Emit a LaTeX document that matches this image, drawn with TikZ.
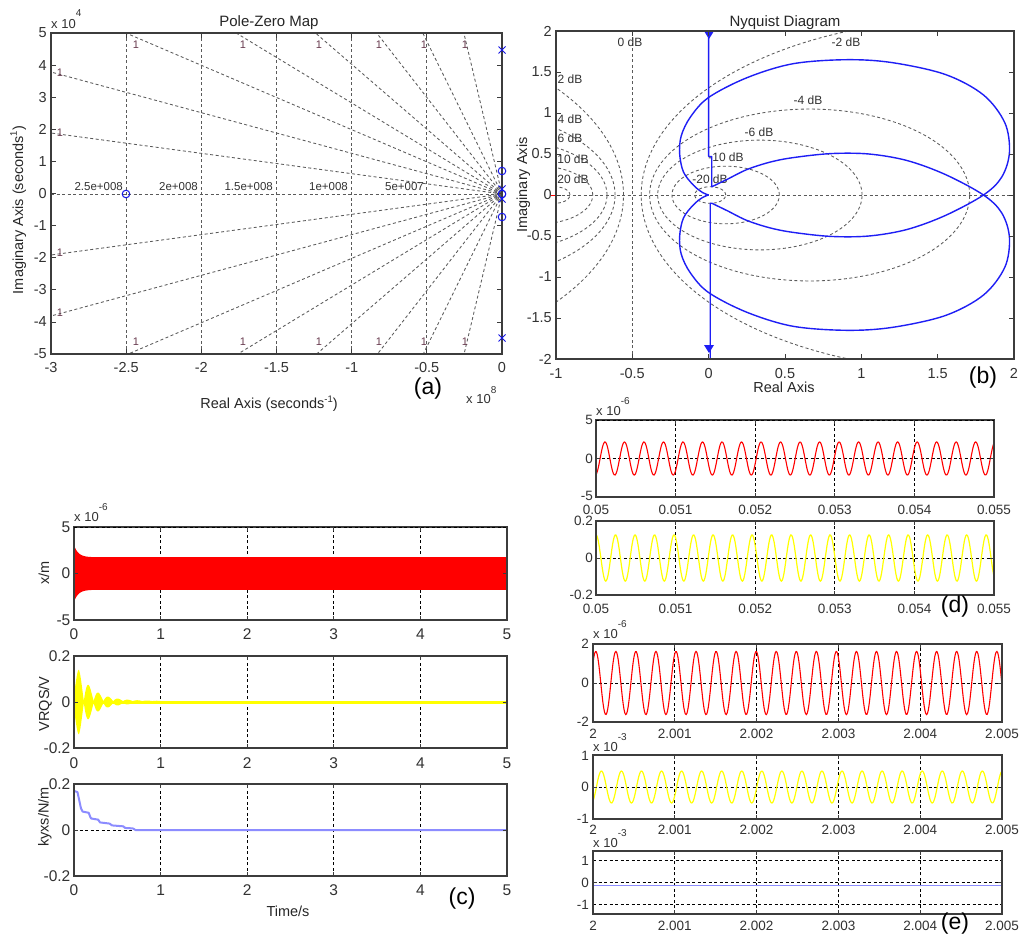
\documentclass[tikz,border=0pt]{standalone}
\usepackage{fontspec}
\setmainfont{Liberation Sans}
\definecolor{tg}{RGB}{50,50,50}
\definecolor{axc}{RGB}{60,60,60}
\definecolor{gridc}{RGB}{90,90,90}
\definecolor{onecol}{RGB}{105,60,80}
\definecolor{nblue}{RGB}{30,30,245}
\definecolor{mblue}{RGB}{20,20,230}
\definecolor{lblue}{RGB}{140,140,255}
\definecolor{ylw}{RGB}{255,255,0}
\newcommand\xtenexp[2][11pt]{x 10\raisebox{#1}{\fontsize{10}{10}\selectfont #2}}
\tikzset{
  axbox/.style={draw=axc, line width=1.1pt},
  tk/.style={draw=axc, line width=0.8pt},
  gridg/.style={draw=gridc, line width=0.85pt, dash pattern=on 3pt off 2.5pt},
  gridk/.style={draw=black, line width=0.9pt, dash pattern=on 3pt off 2.5pt},
  tla/.style={inner sep=0pt, text=tg, font=\fontsize{14.5}{14.5}\selectfont},
  tlc/.style={inner sep=0pt, text=tg, font=\fontsize{15.5}{15.5}\selectfont},
  tld/.style={inner sep=0pt, text=tg, font=\fontsize{13.5}{13.5}\selectfont},
  ttl/.style={inner sep=0pt, text=black!85, font=\fontsize{15}{15}\selectfont},
  axl/.style={inner sep=0pt, text=black!85, font=\fontsize{14.5}{14.5}\selectfont},
  pl/.style={inner sep=0pt, text=black, font=\fontsize{23}{23}\selectfont},
  dbl/.style={inner sep=0pt, text=tg, font=\fontsize{12}{12}\selectfont},
  gl/.style={inner sep=0pt, text=tg, font=\fontsize{11.5}{11.5}\selectfont},
  onel/.style={inner sep=0pt, text=onecol, font=\fontsize{11}{11}\selectfont},
  xtl/.style={inner sep=0pt, text=tg, font=\fontsize{13}{13}\selectfont, anchor=base west},
  zmark/.style={draw=mblue, line width=1pt},
  nyq/.style={draw=nblue, line width=1.4pt, line join=round},
}
\def\yenv{0.004+0.04*exp(-\x/0.015)+(0.125*min(1,exp(-(\x-0.057)/0.16))+0.012*exp(-\x/0.4))*abs(cos(180*(\x-0.057)/0.113))}
\def\nyqcoords{(0.02,0.1) (0.12,0.19) (0.25,0.31) (0.4,0.4) (0.55,0.455) (0.8,0.505) (1.05,0.5) (1.3,0.42) (1.55,0.25) (1.8,0) (1.92,-0.22) (1.97,-0.52) (1.94,-0.88) (1.8,-1.22) (1.55,-1.47) (1.2,-1.615) (0.9,-1.65) (0.55,-1.6) (0.25,-1.43) (0,-1.19) (-0.12,-0.95) (-0.18,-0.72) (-0.19,-0.5) (-0.165,-0.28) (-0.1,-0.12) (-0.04,-0.03) (0,0)}
\def\nyqA{(0,2) -- (0,0.47) -- (0.02,0.47) -- (0.02,0.1) -- plot[smooth, tension=0.55] coordinates {\nyqcoords}}
\def\nyqB{(0.01,2) -- (0.01,0.1) -- (0.02,0.1) -- plot[smooth, tension=0.55] coordinates {\nyqcoords}}
\begin{document}
\begin{tikzpicture}[x=1pt,y=-1pt]
\useasboundingbox (0,0) rectangle (1024,945);
\fill[white] (0,0) rectangle (1024,945);

% ================= (a) Pole-Zero map
\begin{scope}[shift={(502,194)}, x={(150.33pt,0pt)}, y={(0pt,32.1pt)}]
  \foreach \v in {-2.5,-2,-1.5,-1,-0.5} \draw[gridg] (\v,-5) -- (\v,5);
  \draw[gridg] (-3,0) -- (0,0);
  \foreach \ex/\ey in {-3/3.8,-3/1.9,-2.494/5,-1.763/5,-1.237/5,-0.831/5,-0.5255/5,-0.253/5}
    {\draw[gridg] (0,0) -- (\ex,\ey); \draw[gridg] (0,0) -- (\ex,-\ey);}
\end{scope}
\foreach \rx/\ry in {3/2.5,6/4.5,9/6.5}
  \draw[draw=gridc, line width=0.6pt, dash pattern=on 1pt off 1pt] (502,194) ++(0,-\ry) arc[start angle=90, end angle=270, x radius=\rx pt, y radius=\ry pt];
\draw[axbox] (51,33) rectangle (502,354);
\foreach \yy in {65.1,97.2,129.3,161.4,193.5,225.6,257.7,289.8,321.9}
  {\draw[tk] (51,\yy) -- (56,\yy); \draw[tk] (502,\yy) -- (497,\yy);}
\foreach \xx in {126.2,201.3,276.5,351.7,426.8}
  {\draw[tk] (\xx,354) -- (\xx,349); \draw[tk] (\xx,33) -- (\xx,38);}
\foreach \mx/\my in {126/194,502/171,502/217,502/194}
  \draw[zmark] (\mx,\my) circle[radius=3.8pt];
\foreach \mx/\my in {502/50,502/338,502/189,502/199}
  \draw[zmark] (\mx,\my) +(-3.5,-3.5) -- +(3.5,3.5) +(-3.5,3.5) -- +(3.5,-3.5);
\foreach \p/\t in {123/2.5e+008,198/2e+008,273/1.5e+008,348/1e+008,424/5e+007}
  \node[gl, anchor=base east] at (\p,190) {\t};
\foreach \p in {136,243,319,379,424,465}
  {\node[onel] at (\p,45) {1}; \node[onel] at (\p,342) {1};}
\foreach \q in {73,133,253,313} \node[onel] at (60,\q) {1};
\foreach \p/\t in {33/5,65.1/4,97.2/3,129.3/2,161.4/1,193.5/0,225.6/-1,257.7/-2,289.8/-3,321.9/-4,354/-5}
  \node[tla, anchor=east] at (47,\p) {\t};
\foreach \p/\t in {51/-3,126.2/-2.5,201.3/-2,276.5/-1.5,351.7/-1,426.8/-0.5,502/0}
  \node[tla] at (\p,367.5) {\t};
\node[ttl, anchor=base] (ttla) at (269,26.5) {Pole-Zero Map};
\node[xtl] (xa1) at (51,28) {\xtenexp[12pt]{4}};
\node[xtl] (xa2) at (466,403) {\xtenexp[10pt]{8}};
\node[axl, rotate=90, anchor=base] (yla) at (23,210) {Imaginary Axis (seconds\raisebox{6pt}{\fontsize{9.5}{9.5}\selectfont 1})};
\node[axl, anchor=base] (xla) at (269,408) {Real Axis (seconds\raisebox{6pt}{\fontsize{9.5}{9.5}\selectfont -1})};
\node[pl] (pla) at (428,388.5) {(a)};

% ================= (b) Nyquist
\begin{scope}[shift={(708.67,195)}, x={(152.67pt,0pt)}, y={(0pt,82pt)}]
  \begin{scope}
    \clip (-1,-2) rectangle (2,2);
    \foreach \cc/\rr in {-2.7097/2.152,-1.6614/1.0483,-1.3354/0.6693,-1.1111/0.3514,-1.0101/0.101,1.7097/2.152,0.6614/1.0483,0.3354/0.6693,0.1111/0.3514,0.0101/0.101}
      \draw[gridg] plot[domain=0:360, samples=200] ({\cc+\rr*cos(\x)},{\rr*sin(\x)});
    \draw[gridg] (-0.5,-2) -- (-0.5,2);
    \draw[gridg] (-1,0) -- (2,0);
  \end{scope}
\end{scope}
\node[dbl] at (630,42) {0 dB};
\node[dbl] at (570,79) {2 dB};
\node[dbl] at (570,119) {4 dB};
\node[dbl] at (570,138) {6 dB};
\node[dbl] at (573,159) {10 dB};
\node[dbl] at (573,179) {20 dB};
\node[dbl] at (846,42) {-2 dB};
\node[dbl] at (808,100) {-4 dB};
\node[dbl] at (759,132) {-6 dB};
\node[dbl] at (726,157) {-10 dB};
\node[dbl] at (710,179) {-20 dB};
\begin{scope}[shift={(708.67,195)}, x={(152.67pt,0pt)}, y={(0pt,82pt)}]
  \draw[nyq] \nyqA;
  \begin{scope}[yscale=-1]
    \draw[nyq] \nyqB;
  \end{scope}
\end{scope}
\fill[nblue] (704,31) -- (714,31) -- (709,39) -- cycle;
\fill[nblue] (704,345) -- (714,345) -- (709,353) -- cycle;
\draw[red, line width=1pt] (551,195) -- (561,195) (556,190) -- (556,200);
\draw[axbox] (556,31) rectangle (1014,359);
\foreach \yy in {72,113,154,195,236,277,318}
  {\draw[tk] (556,\yy) -- (561,\yy); \draw[tk] (1014,\yy) -- (1009,\yy);}
\foreach \xx in {632.3,708.7,785,861.3,937.7}
  {\draw[tk] (\xx,359) -- (\xx,354); \draw[tk] (\xx,31) -- (\xx,36);}
\foreach \p/\t in {31/2,72/1.5,113/1,154/0.5,195/0,236/-0.5,277/-1,318/-1.5,359/-2}
  \node[tla, anchor=east] at (552,\p) {\t};
\foreach \p/\t in {556/-1,632.3/-0.5,708.7/0,785/0.5,861.3/1,937.7/1.5,1014/2}
  \node[tla] at (\p,373.5) {\t};
\node[ttl, anchor=base] (ttlb) at (785,26.5) {Nyquist Diagram};
\node[axl, anchor=base] (xlb) at (784,392.5) {Real Axis};
\node[axl, rotate=90, anchor=base] (ylb) at (527,185) {Imaginary Axis};
\node[pl] (plb) at (983,378) {(b)};

% ================= (c) time responses
\begin{scope}[shift={(74,573.5)}, x={(86.6pt,0pt)}, y={(0pt,9.3pt)}]
  \foreach \v in {1,2,3,4} \draw[gridk] (\v,-5) -- (\v,5);
  \fill[red] plot[domain=0:0.5, samples=60] (\x,{1.75+1.3*exp(-\x/0.05)}) -- (5,1.75) -- (5,-1.75) -- plot[domain=0.5:0, samples=60] (\x,{-1.75-1.3*exp(-\x/0.05)}) -- cycle;
\end{scope}
\draw[axbox] (74,527) rectangle (507,620);
\draw[gridk] (74,527) -- (507,527);
\begin{scope}[shift={(74,702)}, x={(86.6pt,0pt)}, y={(0pt,230pt)}]
  \foreach \v in {1,2,3,4} \draw[gridk] (\v,-0.2) -- (\v,0.2);
  \fill[ylw] plot[domain=0:1, samples=400] (\x,{\yenv}) -- plot[domain=1:0, samples=400] (\x,{-(\yenv)}) -- cycle;
  \draw[ylw, line width=3pt] (0,0) -- (5,0);
\end{scope}
\draw[axbox] (74,656) rectangle (507,748);
\begin{scope}[shift={(74,830)}, x={(86.6pt,0pt)}, y={(0pt,230pt)}]
  \foreach \v in {1,2,3,4} \draw[gridk] (\v,-0.2) -- (\v,0.2);
  \draw[gridk] (0,0) -- (5,0);
  \draw[lblue, line width=2pt, line join=round] plot coordinates {(0,0.17) (0.04,0.165) (0.06,0.13) (0.08,0.095) (0.1,0.08) (0.17,0.075) (0.19,0.055) (0.2,0.05) (0.28,0.045) (0.3,0.033) (0.41,0.028) (0.44,0.02) (0.57,0.016) (0.59,0.009) (0.68,0.007) (0.71,0) (5,0)};
\end{scope}
\draw[axbox] (74,784) rectangle (507,876);
\foreach \top/\bot/\mid in {527/620/573.5,656/748/702,784/876/830}
  {\foreach \xx in {160.6,247.2,333.8,420.4}
     {\draw[tk] (\xx,\bot) -- (\xx,\bot-4); \draw[tk] (\xx,\top) -- (\xx,\top+4);}
   \draw[tk] (74,\mid) -- (78,\mid); \draw[tk] (507,\mid) -- (503,\mid);}
\foreach \yy in {634,763,890}
  \foreach \p/\t in {74/0,160.6/1,247.2/2,333.8/3,420.4/4,507/5}
    \node[tlc] at (\p,\yy) {\t};
\foreach \p/\t in {527/5,573.5/0,620/-5,656/0.2,702/0,748/-0.2,784/0.2,830/0,876/-0.2}
  \node[tlc, anchor=east] at (70.5,\p) {\t};
\node[xtl] (xc1) at (74,521) {\xtenexp{-6}};
\node[axl, rotate=90, anchor=base] (ylc1) at (49,573) {x/m};
\node[axl, rotate=90, anchor=base] (ylc2) at (49,704) {VRQS/V};
\node[axl, rotate=90, anchor=base] (ylc3) at (48.5,817) {kyxs/N/m};
\node[axl, anchor=base] (xlc) at (288,916) {Time/s};
\node[pl] (plc) at (462,899) {(c)};

% ================= (d) zoom t=0.05..0.055
\begin{scope}[shift={(596,458.5)}, x={(79.6pt,0pt)}, y={(0pt,7.7pt)}]
  \foreach \v in {1,2,3,4} \draw[gridk] (\v,-5) -- (\v,5);
  \draw[gridk] (0,0) -- (5,0);
  \draw[red, line width=1.1pt] plot[domain=0:5, samples=501] (\x,{2.15*cos(360*4.08*\x-165.6)});
\end{scope}
\draw[axbox] (596,420) rectangle (994,497);
\draw[gridk] (596,420) -- (994,420);
\begin{scope}[shift={(596,558)}, x={(79.6pt,0pt)}, y={(0pt,185pt)}]
  \foreach \v in {1,2,3,4} \draw[gridk] (\v,-0.2) -- (\v,0.2);
  \draw[gridk] (0,0) -- (5,0);
  \draw[ylw, line width=1.2pt] plot[domain=0:5, samples=501] (\x,{0.125*cos(360*4.08*\x)});
\end{scope}
\draw[axbox] (596,521) rectangle (994,595);
\foreach \top/\bot/\mid in {420/497/458.5,521/595/558}
  {\foreach \xx in {675.6,755.2,834.8,914.4}
     {\draw[tk] (\xx,\bot) -- (\xx,\bot-4); \draw[tk] (\xx,\top) -- (\xx,\top+4);}
   \draw[tk] (596,\mid) -- (600,\mid); \draw[tk] (994,\mid) -- (990,\mid);}
\foreach \yy in {509.5,608.5}
  \foreach \p/\t in {596/0.05,675.6/0.051,755.2/0.052,834.8/0.053,914.4/0.054,994/0.055}
    \node[tld] at (\p,\yy) {\t};
\foreach \p/\t in {420/5,458.5/0,496/-5,521/0.2,558/0,595/-0.2}
  \node[tld, anchor=east] at (593,\p) {\t};
\node[xtl] (xd1) at (596,415) {\xtenexp{-6}};
\node[pl] (pld) at (955,607) {(d)};

% ================= (e) zoom t=2..2.005
\begin{scope}[shift={(593,683)}, x={(81.8pt,0pt)}, y={(0pt,19.5pt)}]
  \foreach \v in {1,2,3,4} \draw[gridk] (\v,-2) -- (\v,2);
  \draw[gridk] (0,0) -- (5,0);
  \draw[red, line width=1.1pt] plot[domain=0:5, samples=501] (\x,{1.62*cos(360*4.08*\x-50)});
\end{scope}
\draw[axbox] (593,644) rectangle (1002,722);
\begin{scope}[shift={(593,787)}, x={(81.8pt,0pt)}, y={(0pt,32pt)}]
  \foreach \v in {1,2,3,4} \draw[gridk] (\v,-1) -- (\v,1);
  \draw[gridk] (0,0) -- (5,0);
  \draw[ylw, line width=1.2pt] plot[domain=0:5, samples=501] (\x,{0.5*cos(360*4.08*\x-151)});
\end{scope}
\draw[axbox] (593,755) rectangle (1002,819);
\begin{scope}[shift={(593,882.5)}, x={(81.8pt,0pt)}, y={(0pt,22pt)}]
  \foreach \v in {1,2,3,4} \draw[gridk] (\v,-1.43) -- (\v,1.43);
  \foreach \h in {-1,0,1} \draw[gridk] (0,\h) -- (5,\h);
  \draw[lblue, line width=1.4pt] (0,-0.14) -- (5,-0.14);
\end{scope}
\draw[axbox] (593,851) rectangle (1002,914);
\foreach \top/\bot/\mid in {644/722/683,755/819/787,851/914/882.5}
  {\foreach \xx in {674.8,756.6,838.4,920.2}
     {\draw[tk] (\xx,\bot) -- (\xx,\bot-4); \draw[tk] (\xx,\top) -- (\xx,\top+4);}
   \draw[tk] (593,\mid) -- (597,\mid); \draw[tk] (1002,\mid) -- (998,\mid);}
\foreach \yy in {734,830,925.5}
  \foreach \p/\t in {593/2,674.8/2.001,756.6/2.002,838.4/2.003,920.2/2.004,1002/2.005}
    \node[tld] at (\p,\yy) {\t};
\foreach \p/\t in {644/2,683/0,722/-2,756/1,787/0,819/-1,860.5/1,882.5/0,904.5/-1}
  \node[tld, anchor=east] at (589,\p) {\t};
\node[xtl] (xe1) at (593,638) {\xtenexp{-6}};
\node[xtl] (xe2) at (593,751.5) {\xtenexp{-3}};
\node[xtl] (xe3) at (593,847) {\xtenexp{-3}};
\node[pl] (ple) at (955,924) {(e)};
\end{tikzpicture}
\end{document}
